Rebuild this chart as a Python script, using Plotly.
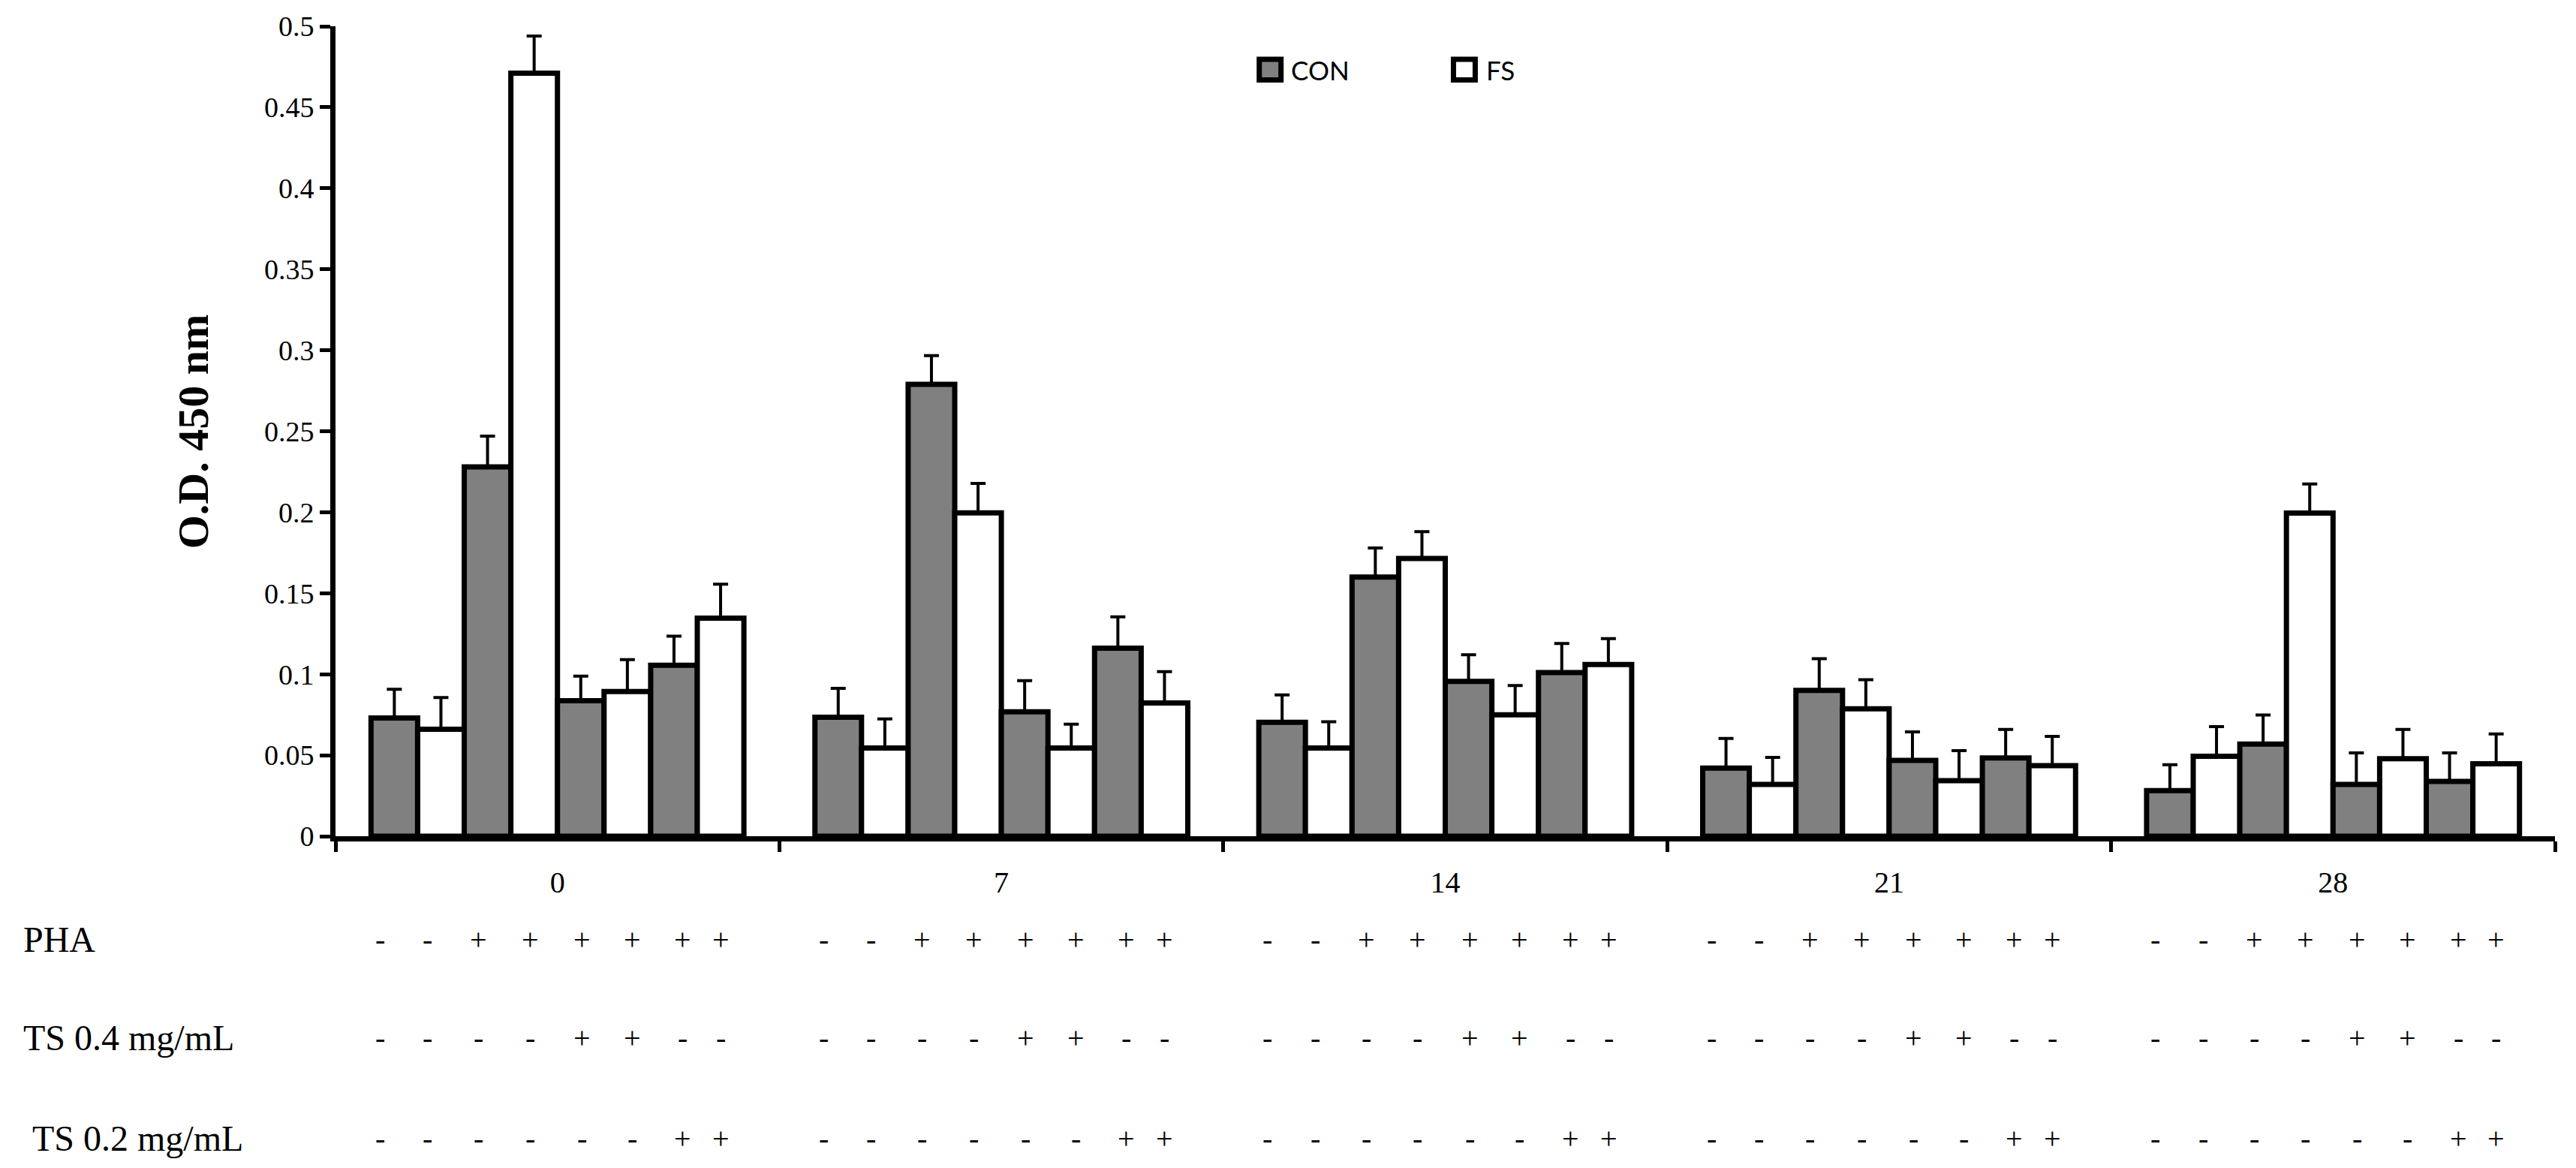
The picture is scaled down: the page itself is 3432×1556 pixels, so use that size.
import plotly.graph_objects as go

# ---------------- data ----------------
days = ["0", "7", "14", "21", "28"]

# CON means per condition (one value per day)
con_ctrl = [0.073, 0.0735, 0.0703, 0.0421, 0.0281]
con_pha = [0.228, 0.279, 0.160, 0.090, 0.0569]
con_pha_ts04 = [0.0836, 0.0768, 0.0956, 0.0468, 0.032]
con_pha_ts02 = [0.1055, 0.1161, 0.101, 0.0483, 0.0338]

# FS means per condition
fs_ctrl = [0.066, 0.0545, 0.0545, 0.032, 0.0494]
fs_pha = [0.471, 0.1996, 0.1715, 0.0787, 0.1995]
fs_pha_ts04 = [0.0893, 0.0545, 0.075, 0.0343, 0.0479]
fs_pha_ts02 = [0.1346, 0.0822, 0.106, 0.0436, 0.0447]

# error (upper) per condition
con_ctrl_err = [0.0177, 0.0178, 0.0169, 0.0182, 0.016]
con_pha_err = [0.019, 0.0177, 0.018, 0.0196, 0.0179]
con_pha_ts04_err = [0.0152, 0.0192, 0.0164, 0.0176, 0.0194]
con_pha_ts02_err = [0.018, 0.0193, 0.018, 0.0176, 0.0176]
fs_ctrl_err = [0.0196, 0.0179, 0.0162, 0.0166, 0.0183]
fs_pha_err = [0.023, 0.0182, 0.0165, 0.0179, 0.018]
fs_pha_ts04_err = [0.0197, 0.0147, 0.018, 0.0185, 0.018]
fs_pha_ts02_err = [0.021, 0.0194, 0.016, 0.018, 0.0184]

# treatment rows under the axis (one symbol per bar in each day group)
row_labels = ["PHA", "TS 0.4 mg/mL", "TS 0.2 mg/mL"]
pha_row = ["-", "-", "+", "+", "+", "+", "+", "+"]
ts04_row = ["-", "-", "-", "-", "+", "+", "-", "-"]
ts02_row = ["-", "-", "-", "-", "-", "-", "+", "+"]

legend_names = ["CON", "FS"]
y_ticks = [0, 0.05, 0.1, 0.15, 0.2, 0.25, 0.3, 0.35, 0.4, 0.45, 0.5]

# ---------------- style ----------------
W, H = 3432, 1556
M_L, M_R, M_T, M_B = 447, 28, 35, 442
CON_COLOR = "#808080"
FS_COLOR = "#ffffff"
SERIF = "Liberation Serif, Times New Roman, serif"
SANS = "Lato, Open Sans, sans-serif"
BARGAP = 0.16
# horizontal placement of the typed +/- symbols inside each day group
SYMBOL_OFFSETS = [-0.40, -0.293, -0.178, -0.062, 0.055, 0.168, 0.282, 0.368]

series = [
    (con_ctrl, con_ctrl_err, CON_COLOR),
    (fs_ctrl, fs_ctrl_err, FS_COLOR),
    (con_pha, con_pha_err, CON_COLOR),
    (fs_pha, fs_pha_err, FS_COLOR),
    (con_pha_ts04, con_pha_ts04_err, CON_COLOR),
    (fs_pha_ts04, fs_pha_ts04_err, FS_COLOR),
    (con_pha_ts02, con_pha_ts02_err, CON_COLOR),
    (fs_pha_ts02, fs_pha_ts02_err, FS_COLOR),
]

fig = go.Figure()
for k, (vals, errs, color) in enumerate(series):
    name = legend_names[k % 2]
    fig.add_trace(go.Bar(
        x=days, y=vals, name=name, legendgroup=name, showlegend=False,
        marker=dict(color=color, line=dict(color="black", width=7)),
        error_y=dict(type="data", array=errs, arrayminus=[0] * len(errs),
                     symmetric=False, color="black", thickness=4, width=10),
    ))

annotations = []
shapes = []

# treatment rows
row_y = [-0.127, -0.249, -0.373]
row_label_x = [-0.1414, -0.1414, -0.1373]
for r, (label, row) in enumerate(zip(row_labels, [pha_row, ts04_row, ts02_row])):
    annotations.append(dict(
        x=row_label_x[r], y=row_y[r], xref="paper", yref="paper",
        text=label, showarrow=False, xanchor="left", yanchor="middle",
        font=dict(family=SERIF, size=48, color="black"),
    ))
    for g in range(len(days)):
        for i, sym in enumerate(row):
            annotations.append(dict(
                x=g + SYMBOL_OFFSETS[i], y=row_y[r], xref="x", yref="paper",
                text=sym, showarrow=False, xanchor="center", yanchor="middle",
                font=dict(family=SERIF, size=40, color="black"),
            ))

# y-axis title
annotations.append(dict(
    x=-0.064, y=0.5, xref="paper", yref="paper", text="<b>O.D. 450 nm</b>",
    textangle=-90, showarrow=False, xanchor="center", yanchor="middle",
    font=dict(family=SERIF, size=58, color="black"),
))

# legend (drawn as boxes + labels)
leg_boxes = [(0.4162, 0.4260, CON_COLOR), (0.5037, 0.5135, FS_COLOR)]
leg_text_x = [0.4298, 0.5178]
for (x0, x1, col), tx, nm in zip(leg_boxes, leg_text_x, legend_names):
    shapes.append(dict(
        type="rect", xref="paper", yref="paper", x0=x0, x1=x1, y0=0.9337, y1=0.9592,
        fillcolor=col, line=dict(color="black", width=7), layer="above",
    ))
    annotations.append(dict(
        x=tx, y=0.9465, xref="paper", yref="paper", text=nm, showarrow=False,
        xanchor="left", yanchor="middle",
        font=dict(family=SANS, size=35, color="black"),
    ))

fig.update_layout(
    width=W, height=H,
    margin=dict(l=M_L, r=M_R, t=M_T, b=M_B),
    paper_bgcolor="white", plot_bgcolor="white",
    barmode="group", bargap=BARGAP, bargroupgap=0,
    showlegend=False,
    annotations=annotations,
    shapes=shapes,
    xaxis=dict(
        type="category", showline=True, linecolor="black", linewidth=7,
        ticks="outside", tickson="boundaries", ticklen=14, tickwidth=5,
        tickcolor="black", showgrid=False, zeroline=False,
        tickfont=dict(family=SERIF, size=40, color="black"),
        ticklabelstandoff=20,
    ),
    yaxis=dict(
        range=[0, 0.5], tickvals=y_ticks,
        ticktext=[f"{v:g}" for v in y_ticks],
        showline=True, linecolor="black", linewidth=7,
        ticks="outside", ticklen=14, tickwidth=5, tickcolor="black",
        showgrid=False, zeroline=False,
        tickfont=dict(family=SERIF, size=38, color="black"),
    ),
)

fig.write_html(
    "out.html",
    config={"displayModeBar": False},
    post_script="document.body.style.margin='0';document.body.style.overflow='hidden';",
)
